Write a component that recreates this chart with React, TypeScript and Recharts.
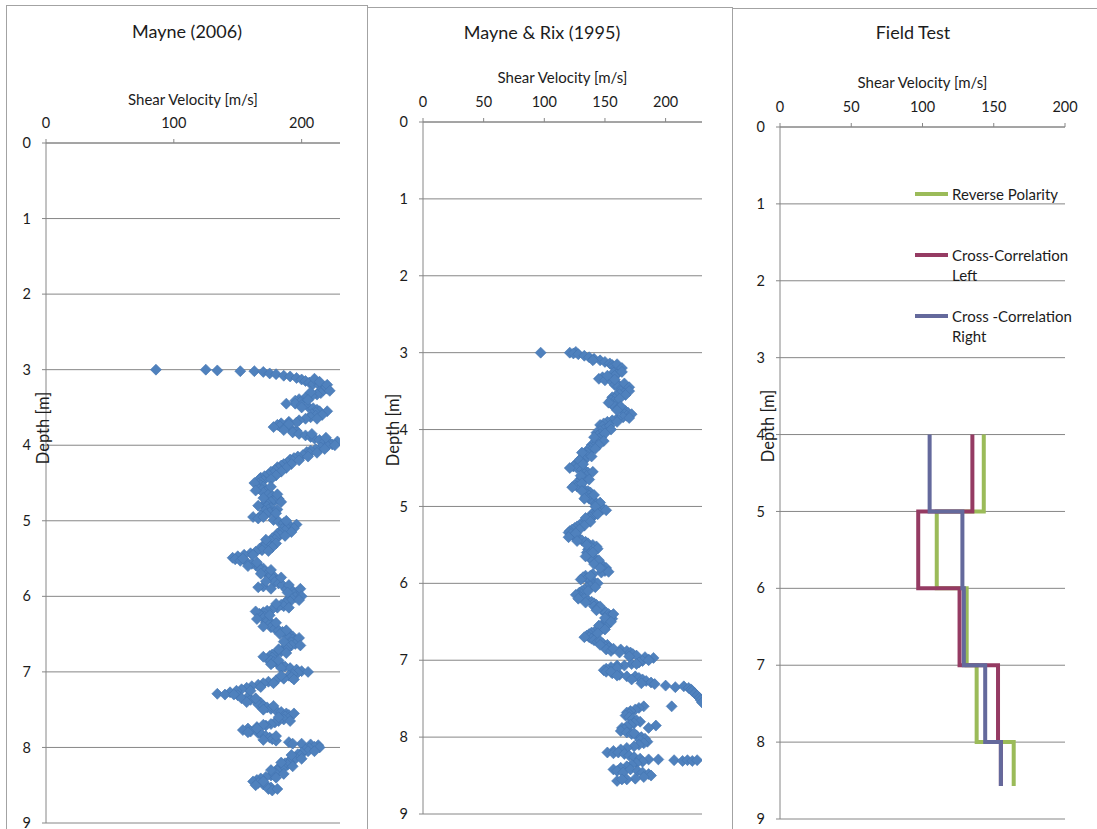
import React from 'react';
import { ScatterChart, Scatter, XAxis, YAxis, CartesianGrid, Legend } from 'recharts';

// ---------- tick labels ----------
const depthTicks = [0, 1, 2, 3, 4, 5, 6, 7, 8, 9];
const mayneTicks = [0, 100, 200];
const rixTicks = [0, 50, 100, 150, 200];
const fieldTicks = [0, 50, 100, 150, 200];

// ---------- Mayne (2006): [depth m, shear velocity m/s] ----------
const mayne2006: [number, number][] = [
  [3.0, 86], [3.0, 125], [3.01, 134], [3.02, 152], [3.02, 163], [3.03, 170], [3.05, 175], [3.06, 180],
  [3.08, 186], [3.09, 191], [3.11, 196], [3.13, 200], [3.15, 203], [3.17, 206], [3.19, 209], [3.21, 214],
  [3.23, 218], [3.25, 220], [3.27, 217], [3.29, 214], [3.31, 215], [3.33, 212], [3.35, 208], [3.37, 203],
  [3.39, 198], [3.41, 195], [3.43, 199], [3.45, 195], [3.47, 200], [3.49, 205], [3.51, 209], [3.53, 212],
  [3.55, 214], [3.57, 211], [3.59, 208], [3.61, 211], [3.63, 207], [3.65, 203], [3.67, 198], [3.69, 190],
  [3.71, 184], [3.73, 181], [3.75, 183], [3.77, 187], [3.79, 192], [3.81, 196], [3.83, 193], [3.85, 198],
  [3.87, 203], [3.89, 207], [3.91, 210], [3.93, 214], [3.95, 218], [3.97, 222], [3.99, 224], [4.01, 220],
  [4.03, 215], [4.05, 211], [4.07, 207], [4.09, 204], [4.11, 206], [4.13, 201], [4.15, 197], [4.17, 194],
  [4.19, 191], [4.21, 193], [4.23, 189], [4.25, 186], [4.27, 184], [4.29, 181], [4.31, 182], [4.33, 179],
  [4.35, 176], [4.37, 178], [4.39, 174], [4.41, 171], [4.43, 168], [4.45, 167], [4.47, 170], [4.49, 168],
  [4.51, 166], [4.53, 168], [4.55, 170], [4.57, 166], [4.59, 169], [4.61, 172], [4.63, 170], [4.65, 174],
  [4.67, 177], [4.69, 180], [4.71, 182], [4.73, 179], [4.75, 176], [4.77, 173], [4.79, 170], [4.81, 173],
  [4.83, 176], [4.85, 174], [4.87, 171], [4.89, 175], [4.91, 172], [4.93, 168], [4.95, 162], [4.97, 166],
  [4.99, 178], [5.01, 182], [5.03, 186], [5.05, 189], [5.07, 191], [5.09, 188], [5.11, 185], [5.13, 187],
  [5.15, 183], [5.17, 181], [5.19, 183], [5.21, 180], [5.23, 177], [5.25, 179], [5.27, 176], [5.29, 173],
  [5.31, 171], [5.33, 174], [5.35, 170], [5.37, 167], [5.39, 169], [5.41, 164], [5.43, 160], [5.45, 155],
  [5.47, 150], [5.49, 146], [5.51, 148], [5.53, 152], [5.55, 157], [5.57, 161], [5.59, 164], [5.61, 167],
  [5.63, 170], [5.65, 168], [5.67, 171], [5.69, 174], [5.71, 176], [5.73, 178], [5.75, 175], [5.77, 178],
  [5.79, 181], [5.81, 179], [5.83, 182], [5.85, 185], [5.87, 170], [5.88, 166], [5.9, 176], [5.91, 188],
  [5.93, 193], [5.95, 196], [5.97, 194], [5.99, 198], [6.01, 195], [6.03, 192], [6.05, 189], [6.07, 191],
  [6.09, 187], [6.11, 184], [6.13, 186], [6.15, 181], [6.17, 177], [6.19, 173], [6.21, 170], [6.23, 167],
  [6.25, 168], [6.27, 171], [6.29, 170], [6.31, 173], [6.33, 175], [6.35, 172], [6.37, 175], [6.39, 178],
  [6.41, 176], [6.43, 179], [6.45, 182], [6.47, 185], [6.49, 188], [6.51, 191], [6.53, 193], [6.55, 190],
  [6.57, 193], [6.59, 195], [6.61, 192], [6.63, 195], [6.65, 192], [6.67, 189], [6.69, 186], [6.71, 188],
  [6.73, 184], [6.75, 180], [6.77, 177], [6.79, 175], [6.81, 177], [6.83, 173], [6.85, 176], [6.87, 178],
  [6.89, 181], [6.91, 184], [6.93, 187], [6.95, 191], [6.97, 196], [6.99, 200], [7.01, 197], [7.03, 193],
  [7.05, 190], [7.07, 192], [7.09, 186], [7.11, 180], [7.13, 174], [7.15, 170], [7.17, 166], [7.19, 161],
  [7.21, 157], [7.23, 153], [7.25, 149], [7.27, 144], [7.29, 134], [7.3, 140], [7.31, 150], [7.33, 158],
  [7.35, 153], [7.37, 160], [7.39, 165], [7.41, 168], [7.43, 166], [7.45, 170], [7.47, 173], [7.49, 176],
  [7.51, 180], [7.53, 184], [7.55, 188], [7.57, 190], [7.59, 187], [7.61, 190], [7.63, 186], [7.65, 182],
  [7.67, 179], [7.69, 176], [7.71, 172], [7.73, 165], [7.75, 158], [7.77, 154], [7.79, 160], [7.81, 166],
  [7.83, 169], [7.85, 172], [7.87, 175], [7.89, 177], [7.91, 180], [7.93, 190], [7.95, 200], [7.96, 207],
  [7.97, 213], [7.99, 210], [8.01, 206], [8.03, 203], [8.05, 205], [8.07, 200], [8.09, 197], [8.11, 199],
  [8.13, 195], [8.15, 192], [8.17, 194], [8.19, 190], [8.21, 187], [8.23, 189], [8.25, 185], [8.27, 182],
  [8.29, 185], [8.31, 181], [8.33, 178], [8.35, 180], [8.37, 176], [8.39, 172], [8.41, 168], [8.43, 165],
  [8.45, 162], [8.47, 166], [8.49, 170], [8.51, 173], [8.53, 176], [8.55, 174], [8.57, 177],
  // scatter around the main trace
  [3.12, 210], [3.16, 214], [3.2, 220], [3.28, 222], [3.3, 207], [3.4, 205], [3.45, 188], [3.5, 200],
  [3.55, 220], [3.6, 216], [3.65, 212], [3.7, 196], [3.72, 190], [3.76, 178], [3.8, 186], [3.85, 208],
  [3.9, 219], [3.95, 228], [4.0, 226], [4.05, 218], [4.1, 212], [4.15, 205], [4.2, 198], [4.25, 192],
  [4.3, 188], [4.35, 184], [4.4, 180], [4.45, 176], [4.5, 163], [4.55, 176], [4.6, 164], [4.65, 181],
  [4.7, 170], [4.75, 184], [4.8, 166], [4.85, 181], [4.9, 180], [4.95, 170], [5.0, 188], [5.05, 196],
  [5.1, 194], [5.15, 192], [5.2, 187], [5.25, 172], [5.3, 180], [5.35, 177], [5.4, 174], [5.45, 162],
  [5.5, 154], [5.55, 165], [5.6, 158], [5.65, 176], [5.7, 168], [5.75, 184], [5.8, 172], [5.85, 190],
  [5.9, 199], [5.95, 189], [6.0, 200], [6.05, 198], [6.1, 180], [6.15, 190], [6.2, 164], [6.25, 175],
  [6.3, 165], [6.35, 180], [6.4, 170], [6.45, 188], [6.5, 183], [6.55, 198], [6.6, 186], [6.65, 199],
  [6.7, 182], [6.75, 188], [6.8, 170], [6.85, 182], [6.9, 176], [6.95, 184], [7.0, 205], [7.05, 184],
  [7.1, 194], [7.15, 178], [7.2, 168], [7.25, 160], [7.3, 147], [7.35, 164], [7.4, 157], [7.45, 178],
  [7.5, 170], [7.55, 194], [7.6, 182], [7.65, 191], [7.7, 170], [7.75, 165], [7.8, 158], [7.85, 180],
  [7.9, 170], [7.95, 193], [8.0, 214], [8.05, 210], [8.1, 192], [8.15, 200], [8.2, 184], [8.25, 193],
  [8.3, 176], [8.35, 186], [8.4, 180], [8.45, 170], [8.5, 164], [8.55, 181],
];

// ---------- Mayne & Rix (1995): [depth m, shear velocity m/s] ----------
const mayneRix1995: [number, number][] = [
  [3.0, 97], [3.0, 121], [2.99, 126], [3.01, 124], [3.02, 128], [3.04, 133], [3.06, 137], [3.08, 141],
  [3.1, 146], [3.12, 150], [3.14, 154], [3.16, 156], [3.18, 157], [3.2, 159], [3.22, 160], [3.24, 159],
  [3.26, 157], [3.28, 160], [3.3, 158], [3.32, 148], [3.34, 145], [3.36, 150], [3.38, 156], [3.4, 160],
  [3.42, 158], [3.44, 161], [3.46, 164], [3.48, 166], [3.5, 163], [3.52, 166], [3.54, 162], [3.56, 159],
  [3.58, 156], [3.6, 158], [3.62, 155], [3.64, 157], [3.66, 159], [3.68, 156], [3.7, 158], [3.72, 161],
  [3.74, 164], [3.76, 167], [3.78, 169], [3.8, 166], [3.82, 168], [3.84, 165], [3.86, 160], [3.88, 156],
  [3.9, 152], [3.92, 149], [3.94, 146], [3.96, 148], [3.98, 152], [4.0, 149], [4.02, 146], [4.04, 143],
  [4.06, 146], [4.08, 144], [4.1, 147], [4.12, 145], [4.14, 143], [4.16, 145], [4.18, 141], [4.2, 139],
  [4.22, 141], [4.24, 138], [4.26, 136], [4.28, 138], [4.3, 135], [4.32, 133], [4.34, 135], [4.36, 132],
  [4.38, 130], [4.4, 133], [4.42, 131], [4.44, 128], [4.46, 125], [4.48, 124], [4.5, 127], [4.52, 131],
  [4.54, 134], [4.56, 136], [4.58, 133], [4.6, 135], [4.62, 132], [4.64, 130], [4.66, 132], [4.68, 129],
  [4.7, 127], [4.72, 125], [4.74, 127], [4.76, 130], [4.78, 133], [4.8, 136], [4.82, 138], [4.84, 135],
  [4.86, 137], [4.88, 134], [4.9, 137], [4.92, 139], [4.94, 141], [4.96, 143], [4.98, 145], [5.0, 147],
  [5.02, 145], [5.04, 148], [5.06, 144], [5.08, 141], [5.1, 139], [5.12, 141], [5.14, 138], [5.16, 137],
  [5.18, 135], [5.2, 133], [5.22, 131], [5.24, 129], [5.26, 127], [5.28, 125], [5.3, 123], [5.32, 121],
  [5.34, 120], [5.36, 122], [5.38, 124], [5.4, 126], [5.42, 129], [5.44, 131], [5.46, 134], [5.48, 136],
  [5.5, 140], [5.52, 143], [5.54, 139], [5.56, 136], [5.58, 138], [5.6, 135], [5.62, 137], [5.64, 139],
  [5.66, 141], [5.68, 138], [5.7, 140], [5.72, 143], [5.74, 145], [5.76, 147], [5.78, 149], [5.8, 151],
  [5.82, 148], [5.84, 150], [5.86, 147], [5.88, 140], [5.9, 134], [5.92, 132], [5.94, 135], [5.96, 138],
  [5.98, 141], [6.0, 139], [6.02, 141], [6.04, 138], [6.06, 135], [6.08, 133], [6.1, 131], [6.12, 129],
  [6.14, 131], [6.16, 128], [6.18, 130], [6.2, 133], [6.22, 136], [6.24, 139], [6.26, 141], [6.28, 143],
  [6.3, 141], [6.32, 144], [6.34, 147], [6.36, 149], [6.38, 151], [6.4, 153], [6.42, 155], [6.44, 153],
  [6.46, 156], [6.48, 153], [6.5, 150], [6.52, 152], [6.54, 149], [6.56, 151], [6.58, 148], [6.6, 145],
  [6.62, 142], [6.64, 139], [6.66, 137], [6.68, 135], [6.7, 137], [6.72, 139], [6.74, 141], [6.76, 144],
  [6.78, 148], [6.8, 152], [6.82, 150], [6.84, 153], [6.86, 151], [6.88, 155], [6.86, 163], [6.88, 168],
  [6.9, 171], [6.92, 173], [6.94, 176], [6.96, 183], [6.97, 190], [6.99, 186], [7.01, 181], [7.03, 178],
  [7.05, 172], [7.07, 166], [7.07, 160], [7.09, 155], [7.11, 151], [7.13, 149], [7.15, 151], [7.17, 156],
  [7.19, 162], [7.21, 168], [7.21, 175], [7.23, 178], [7.25, 181], [7.27, 184], [7.29, 188], [7.31, 191],
  [7.33, 200], [7.35, 208], [7.34, 215], [7.36, 219], [7.38, 221], [7.4, 222], [7.43, 224], [7.46, 226],
  [7.49, 228], [7.52, 229], [7.55, 230], [7.6, 205], [7.6, 182], [7.62, 178], [7.64, 175], [7.66, 171],
  [7.68, 168], [7.7, 170], [7.72, 167], [7.74, 170], [7.76, 173], [7.78, 176], [7.8, 179], [7.82, 174],
  [7.84, 171], [7.86, 168], [7.88, 164], [7.9, 166], [7.92, 163], [7.94, 168], [7.96, 172], [7.98, 176],
  [8.0, 180], [8.02, 183], [8.04, 179], [8.06, 185], [8.08, 182], [7.95, 174], [7.85, 192], [7.88, 186],
  [8.1, 178], [8.12, 174], [8.14, 168], [8.16, 163], [8.18, 157], [8.2, 152], [8.21, 157], [8.2, 161],
  [8.22, 166], [8.24, 170], [8.26, 174], [8.28, 179], [8.29, 186], [8.29, 194], [8.3, 207], [8.31, 214],
  [8.3, 218], [8.31, 222], [8.3, 226], [8.32, 181], [8.34, 176], [8.36, 172], [8.38, 168], [8.4, 163],
  [8.42, 157], [8.44, 160], [8.46, 165], [8.42, 171], [8.44, 177], [8.46, 181], [8.48, 186], [8.5, 188],
  [8.52, 182], [8.54, 175], [8.55, 168], [8.57, 160], [8.55, 164],
  // scatter around the main trace
  [3.1, 140], [3.15, 160], [3.2, 164], [3.25, 164], [3.3, 152], [3.35, 158], [3.4, 166], [3.45, 170],
  [3.5, 170], [3.55, 167], [3.6, 162], [3.65, 153], [3.7, 163], [3.75, 160], [3.8, 172], [3.85, 170],
  [3.9, 160], [3.95, 154], [4.0, 155], [4.05, 150], [4.1, 141], [4.15, 149], [4.2, 145], [4.25, 142],
  [4.3, 131], [4.35, 139], [4.4, 129], [4.45, 132], [4.5, 121], [4.55, 140], [4.6, 130], [4.65, 137],
  [4.7, 131], [4.75, 123], [4.8, 131], [4.85, 141], [4.9, 133], [4.95, 146], [5.0, 142], [5.05, 151],
  [5.1, 144], [5.15, 134], [5.2, 138], [5.25, 133], [5.3, 129], [5.35, 126], [5.4, 120], [5.45, 127],
  [5.5, 135], [5.55, 144], [5.6, 140], [5.65, 134], [5.7, 145], [5.75, 141], [5.8, 146], [5.85, 153],
  [5.9, 138], [5.95, 130], [6.0, 144], [6.05, 142], [6.1, 136], [6.15, 126], [6.2, 128], [6.25, 134],
  [6.3, 146], [6.35, 143], [6.4, 157], [6.45, 150], [6.5, 155], [6.55, 145], [6.6, 150], [6.65, 144],
  [6.7, 133], [6.75, 146], [6.8, 146], [6.85, 157], [6.9, 162], [6.95, 170], [7.0, 186], [7.05, 176],
  [7.1, 160], [7.15, 155], [7.2, 160], [7.25, 172], [7.3, 180],
];

// ---------- Field Test: layer boundaries (m) and layer velocities (m/s) ----------
const fieldLayerDepths = [4, 5, 6, 7, 8, 8.57];
const reversePolarity = [143, 110, 131, 138, 164];
const crossCorrLeft = [135, 97, 126, 153, 155];
const crossCorrRight = [105, 128, 129, 144, 155];
const fieldLegendLines = [['Reverse Polarity'], ['Cross-Correlation', 'Left'], ['Cross -Correlation', 'Right']];
const fieldColors = ['#9BBB59', '#953B63', '#64699C'];

// ---------- helpers ----------
const FONT = 'Lato, "Open Sans", sans-serif';
const GRID = '#868686';
const TEXT = '#1c1c1c';
const DOT = '#4F81BD';

const toPoints = (pairs: [number, number][]) => pairs.map(([d, v]) => ({ d, v }));
const toSteps = (vals: number[]) => {
  const pts: { d: number; v: number }[] = [];
  vals.forEach((v, i) => {
    pts.push({ v, d: fieldLayerDepths[i] });
    pts.push({ v, d: fieldLayerDepths[i + 1] });
  });
  return pts;
};

const Diamond = (props: any) => {
  const { cx, cy } = props;
  if (cx == null || cy == null) return <g />;
  const r = 5.5;
  return (
    <polygon
      points={`${cx},${cy - r} ${cx + r},${cy} ${cx},${cy + r} ${cx - r},${cy}`}
      fill={DOT}
      stroke="#4373B0"
      strokeWidth={0.6}
    />
  );
};

const NoShape = () => <g />;

const tickStyle = { fill: TEXT, fontSize: 14.5, fontFamily: FONT };

const depthLabel = (x: number, y: number) => (props: any) => (
  <text
    x={x}
    y={y}
    transform={`rotate(-90 ${x} ${y})`}
    textAnchor="middle"
    dominantBaseline="central"
    fill={TEXT}
    fontSize={16.5}
    fontFamily={FONT}
  >
    Depth [m]
  </text>
);

const FieldLegend = () => (
  <div style={{ position: 'relative', fontFamily: FONT, fontSize: 15, color: TEXT }}>
    {fieldLegendLines.map((lines, i) => (
      <div key={i} style={{ position: 'absolute', top: i * 61, left: 0, display: 'flex', alignItems: 'flex-start' }}>
        <div style={{ width: 33, height: 4, background: fieldColors[i], marginTop: 8, marginRight: 4 }} />
        <div style={{ lineHeight: '20px', whiteSpace: 'nowrap' }}>
          {lines.map((l) => (
            <div key={l}>{l}</div>
          ))}
        </div>
      </div>
    ))}
  </div>
);

type PanelProps = {
  left: number;
  width: number;
  margin: { top: number; right: number; bottom: number; left: number };
  xMax: number;
  xTicks: number[];
  titleOffset: number;
  labelPos: [number, number];
  children: React.ReactNode;
};

const Panel = ({ left, width, margin, xMax, xTicks, titleOffset, labelPos, children }: PanelProps) => (
  <div style={{ position: 'absolute', left, top: 0 }}>
    <ScatterChart width={width} height={829} margin={margin}>
      <CartesianGrid vertical={false} stroke={GRID} strokeWidth={1} />
      <XAxis
        type="number"
        dataKey="v"
        orientation="top"
        domain={[0, xMax]}
        ticks={xTicks}
        interval={0}
        height={30}
        tick={tickStyle}
        tickSize={4}
        tickMargin={11}
        axisLine={{ stroke: GRID }}
        tickLine={{ stroke: GRID }}
        allowDataOverflow
        label={{ value: 'Shear Velocity [m/s]', position: 'top', offset: titleOffset, fill: TEXT, fontSize: 15, fontFamily: FONT }}
      />
      <YAxis
        type="number"
        dataKey="d"
        reversed
        domain={[0, 9]}
        ticks={depthTicks}
        interval={0}
        width={30}
        tick={tickStyle}
        tickSize={4}
        tickMargin={11}
        axisLine={{ stroke: GRID }}
        tickLine={{ stroke: GRID }}
        allowDataOverflow
        label={{ content: depthLabel(labelPos[0], labelPos[1]) }}
      />
      {children}
    </ScatterChart>
  </div>
);

const frameStyle = (left: number, top: number, width: number): React.CSSProperties => ({
  position: 'absolute',
  left,
  top,
  width,
  height: 900,
  border: '1px solid #a3a3a3',
  boxSizing: 'border-box',
});

const titleStyle = (cx: number, cy: number): React.CSSProperties => ({
  position: 'absolute',
  left: cx,
  top: cy,
  transform: 'translate(-50%, -50%)',
  fontFamily: FONT,
  fontSize: 18,
  color: TEXT,
  whiteSpace: 'nowrap',
});

export default function App() {
  return (
    <div
      style={{
        position: 'absolute',
        left: 0,
        top: 0,
        width: 1097,
        height: 829,
        overflow: 'hidden',
        background: '#ffffff',
      }}
    >
      <div style={frameStyle(6, 5, 362)} />
      <div style={frameStyle(367, 7, 366)} />
      <div style={frameStyle(732, 8, 400)} />

      <div style={titleStyle(187, 31)}>Mayne (2006)</div>
      <div style={titleStyle(542, 32)}>Mayne &amp; Rix (1995)</div>
      <div style={titleStyle(913, 32)}>Field Test</div>

      <Panel
        left={0}
        width={367}
        margin={{ top: 113, right: 27, bottom: 6, left: 16 }}
        xMax={230}
        xTicks={mayneTicks}
        titleOffset={8}
        labelPos={[43, 428]}
      >
        <Scatter name="Mayne (2006)" data={toPoints(mayne2006)} shape={Diamond} isAnimationActive={false} />
      </Panel>

      <Panel
        left={368}
        width={364}
        margin={{ top: 92, right: 30, bottom: 15, left: 25 }}
        xMax={230}
        xTicks={rixTicks}
        titleOffset={9}
        labelPos={[25, 430]}
      >
        <Scatter name="Mayne & Rix (1995)" data={toPoints(mayneRix1995)} shape={Diamond} isAnimationActive={false} />
      </Panel>

      <Panel
        left={732}
        width={365}
        margin={{ top: 97, right: 32, bottom: 10, left: 18 }}
        xMax={200}
        xTicks={fieldTicks}
        titleOffset={9}
        labelPos={[36, 426]}
      >
        {[reversePolarity, crossCorrLeft, crossCorrRight].map((vals, i) => (
          <Scatter
            key={i}
            name={fieldLegendLines[i].join(' ')}
            data={toSteps(vals)}
            fill={fieldColors[i]}
            line={{ stroke: fieldColors[i], strokeWidth: 4, strokeLinejoin: 'miter', strokeLinecap: 'butt' }}
            lineType="joint"
            shape={NoShape}
            isAnimationActive={false}
          />
        ))}
        <Legend
          layout="vertical"
          align="center"
          verticalAlign="middle"
          content={<FieldLegend />}
          wrapperStyle={{ left: 183, top: 184, width: 170, height: 190 }}
        />
      </Panel>
    </div>
  );
}
